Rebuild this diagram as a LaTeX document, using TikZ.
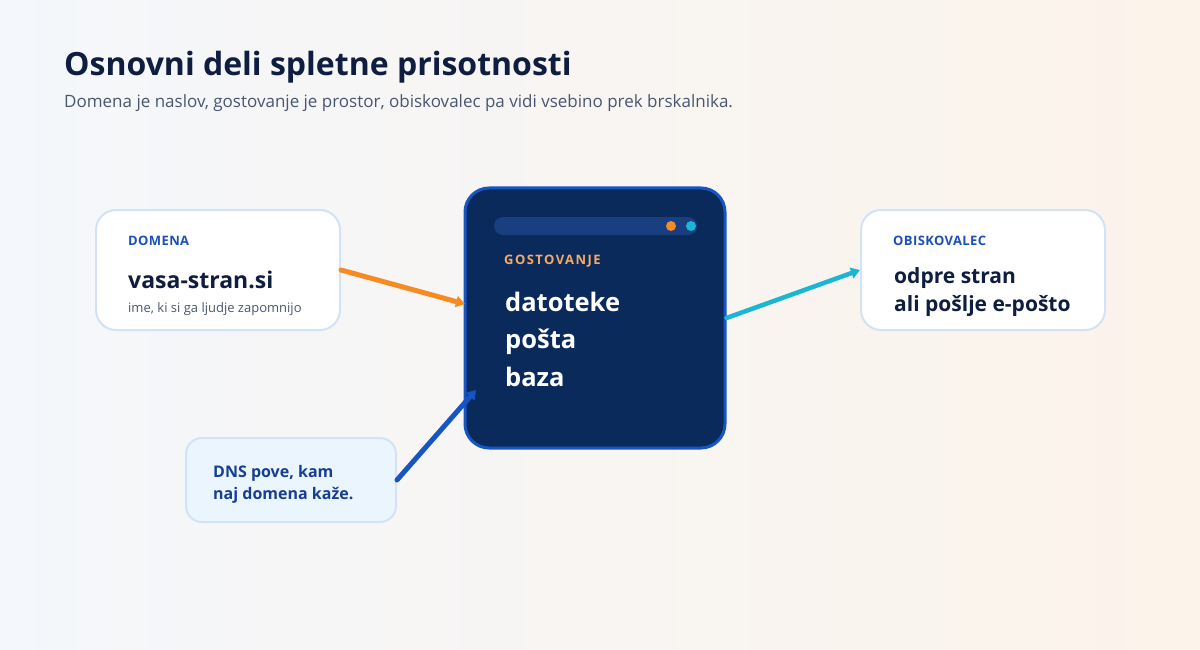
\documentclass[tikz,border=0pt]{standalone}
\usepackage{fontspec}
\setmainfont{Open Sans}
\usetikzlibrary{arrows.meta}
\definecolor{bgl}{HTML}{F4F7FB}
\definecolor{bgr}{HTML}{FCF3EA}
\definecolor{ink}{HTML}{0F1D40}
\definecolor{muted}{HTML}{4A5670}
\definecolor{accent}{HTML}{1D4FB8}
\definecolor{edge}{HTML}{D3E3F6}
\definecolor{navy}{HTML}{0B2A5C}
\definecolor{navyedge}{HTML}{1756C2}
\definecolor{navybar}{HTML}{193F80}
\definecolor{ora}{HTML}{F58B22}
\definecolor{orat}{HTML}{F7AA63}
\definecolor{cya}{HTML}{1CB6D5}
\definecolor{dnsfill}{HTML}{EAF5FE}
\definecolor{dnsink}{HTML}{173E93}
\tikzset{
  card/.style={draw=edge, line width=2pt, fill=white, rounded corners=20pt, minimum width=244pt, minimum height=120pt},
  txt/.style={anchor=base west, inner sep=0pt},
  tag/.style={txt, font=\fontsize{13}{15}\selectfont\bfseries\addfontfeatures{LetterSpace=3}, text=accent},
  link/.style={line width=5pt, line cap=round, -{Triangle[length=9pt,width=11pt]}}
}
\begin{document}
\begin{tikzpicture}[x=1pt,y=-1pt]
\shade[left color=bgl, right color=bgr] (0,0) rectangle (1200,650);
% title
\node[txt, font=\fontsize{32}{36}\selectfont\bfseries, text=ink] (title) at (64,76) {Osnovni deli spletne prisotnosti};
\node[txt, font=\fontsize{17}{20}\selectfont, text=muted] (sub) at (64,108) {Domena je naslov, gostovanje je prostor, obiskovalec pa vidi vsebino prek brskalnika.};
% boxes
\node[card] (dom) at (218,270) {};
\node[card] (obisk) at (983,270) {};
\node[card, fill=dnsfill, minimum width=210pt, minimum height=84pt, rounded corners=16pt] (dns) at (291,480) {};
\node[draw=navyedge, line width=3pt, fill=navy, rounded corners=24pt, minimum width=260pt, minimum height=260pt] (host) at (595,318) {};
\fill[navybar, rounded corners=9pt] (494,217) rectangle (697,235);
\foreach \x/\c in {671/ora,691/cya} \fill[\c] (\x,226) circle (5pt);
% texts
\node[tag] (domtag) at (128,245) {DOMENA};
\node[txt, font=\fontsize{23}{28}\selectfont\bfseries, text=ink] (domname) at (128,288) {vasa-stran.si};
\node[txt, font=\fontsize{13}{15}\selectfont, text=muted] (domnote) at (128,312) {ime, ki si ga ljudje zapomnijo};
\node[tag, text=orat, font=\fontsize{13}{15}\selectfont\bfseries\addfontfeatures{LetterSpace=11}] (hosttag) at (504,264) {GOSTOVANJE};
\foreach \t[count=\i from 0] in {datoteke,pošta,baza}
  \node[txt, font=\fontsize{25.5}{30}\selectfont\bfseries, text=white] (item\i) at (505,311+37.5*\i) {\t};
\node[tag] (obtag) at (893,245) {OBISKOVALEC};
\foreach \t[count=\i from 0] in {odpre stran,ali pošlje e-pošto}
  \node[txt, font=\fontsize{21}{24}\selectfont\bfseries, text=ink] (obline\i) at (894,283+28*\i) {\t};
\foreach \t[count=\i from 0] in {{DNS pove, kam},{naj domena kaže.}}
  \node[txt, font=\fontsize{16}{20}\selectfont\bfseries, text=dnsink] (dnsline\i) at (213,477+22*\i) {\t};
% connectors
\coordinate (hostin) at (465,304);
\coordinate (dnsin) at (476,390);
\draw[link, ora] (dom.east) -- (hostin);
\draw[link, navyedge] (dns.east) -- (dnsin);
\draw[link, cya, line width=4.5pt] (host.east) -- (obisk.west);
\end{tikzpicture}
\end{document}
